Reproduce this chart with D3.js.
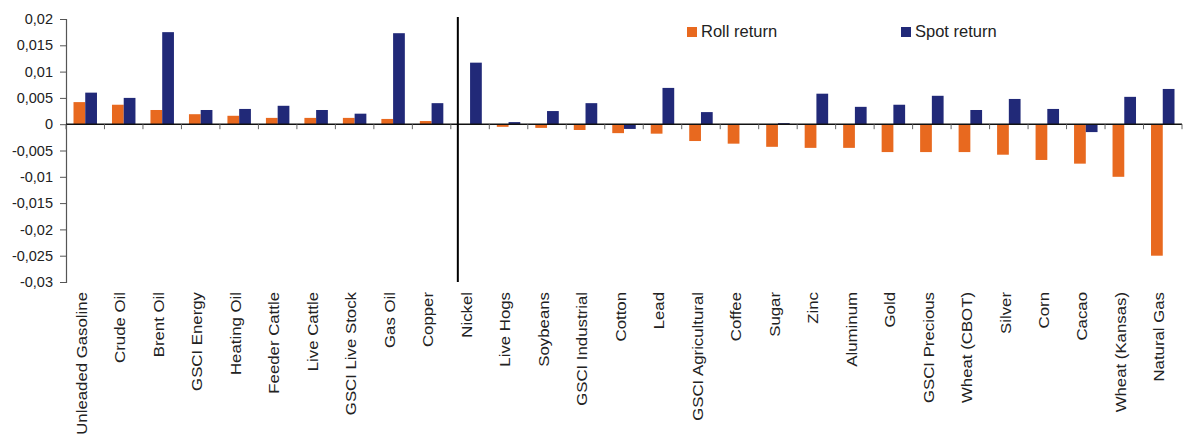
<!DOCTYPE html>
<html>
<head>
<meta charset="utf-8">
<script src="https://cdn.jsdelivr.net/npm/d3@7/dist/d3.min.js"></script>
<style>
  body { margin: 0; background: #fff; }
  svg { display: block; font-family: Arial, "Liberation Sans", sans-serif; }
</style>
</head>
<body>
<div id="chart"></div>
<script>
'use strict';

// data
var categories = ['Unleaded Gasoline', 'Crude Oil', 'Brent Oil', 'GSCI Energy', 'Heating Oil',
    'Feeder Cattle', 'Live Cattle', 'GSCI Live Stock', 'Gas Oil', 'Copper', 'Nickel', 'Live Hogs',
    'Soybeans', 'GSCI Industrial', 'Cotton', 'Lead', 'GSCI Agricultural', 'Coffee', 'Sugar', 'Zinc',
    'Aluminum', 'Gold', 'GSCI Precious', 'Wheat (CBOT)', 'Silver', 'Corn', 'Cacao', 'Wheat (Kansas)',
    'Natural Gas'];

var rollReturn = [0.0042, 0.0037, 0.0027, 0.0019, 0.0016, 0.0012, 0.0012, 0.0012, 0.0010, 0.0006,
    0, -0.0005, -0.0007, -0.0011, -0.0017, -0.0018, -0.0032, -0.0037, -0.0043, -0.0045,
    -0.0045, -0.0053, -0.0053, -0.0053, -0.0058, -0.0068, -0.0075, -0.0100, -0.0250];

var spotReturn = [0.0060, 0.0050, 0.0175, 0.0027, 0.0029, 0.0035, 0.0027, 0.0020, 0.0173, 0.0040,
    0.0117, 0.0004, 0.0025, 0.0040, -0.0009, 0.0069, 0.0023, 0, 0.0002, 0.0058,
    0.0033, 0.0037, 0.0054, 0.0027, 0.0048, 0.0029, -0.0015, 0.0052, 0.0067];

var seriesNames = ['Roll return', 'Spot return'];
var yTicks = [0.02, 0.015, 0.01, 0.005, 0, -0.005, -0.01, -0.015, -0.02, -0.025, -0.03];

var colors = { 'Roll return': '#e8691f', 'Spot return': '#212978' };

var W = 1189, H = 441;
var m = { left: 66, right: 7, top: 19, bottom: 159 };
var iw = W - m.left - m.right;
var ih = H - m.top - m.bottom;

var svg = d3.select('#chart').append('svg').attr('width', W).attr('height', H);
var g = svg.append('g').attr('transform', 'translate(' + m.left + ',' + m.top + ')');

var x0 = d3.scaleBand().domain(categories).range([0, iw]).paddingInner(0.39).paddingOuter(0.195);
var x1 = d3.scaleBand().domain(seriesNames).range([0, x0.bandwidth()]);
var y = d3.scaleLinear().domain([-0.03, 0.02]).range([ih, 0]);

var fmt = function(v) { return String(+v.toFixed(3)).replace('.', ','); };

// y axis
var yAxis = g.append('g')
    .call(d3.axisLeft(y).tickValues(yTicks).tickSize(6).tickPadding(7).tickFormat(fmt));
yAxis.select('.domain').attr('stroke', '#555').attr('stroke-width', 1.2);
yAxis.selectAll('.tick line').attr('stroke', '#555');
yAxis.selectAll('.tick text').attr('font-size', 14.5).attr('fill', '#222');

// bars
var rows = categories.map(function(c, i) {
    return { cat: c, vals: [
        { key: 'Roll return', v: rollReturn[i] },
        { key: 'Spot return', v: spotReturn[i] }
    ] };
});

var grp = g.selectAll('.grp').data(rows).enter().append('g')
    .attr('class', 'grp')
    .attr('transform', function(d) { return 'translate(' + x0(d.cat) + ',0)'; });

grp.selectAll('rect').data(function(d) { return d.vals; }).enter().append('rect')
    .attr('x', function(d) { return x1(d.key); })
    .attr('width', x1.bandwidth())
    .attr('y', function(d) { return y(Math.max(0, d.v)); })
    .attr('height', function(d) { return Math.abs(y(d.v) - y(0)); })
    .attr('fill', function(d) { return colors[d.key]; });

// category axis along zero
var step = x0.step();
var xAxis = g.append('g').attr('transform', 'translate(0,' + y(0) + ')');
xAxis.append('line').attr('x1', 0).attr('x2', iw).attr('stroke', '#111').attr('stroke-width', 1.5);
xAxis.selectAll('.ct').data(d3.range(categories.length + 1)).enter().append('line')
    .attr('x1', function(i) { return i * step; })
    .attr('x2', function(i) { return i * step; })
    .attr('y1', 0).attr('y2', 5)
    .attr('stroke', '#666');

// category labels
g.selectAll('.lab').data(categories).enter().append('text')
    .attr('transform', function(d) {
        return 'translate(' + (x0(d) + x0.bandwidth() / 2) + ',' + (ih + 10) + ') rotate(-90) scale(1.2,1)';
    })
    .attr('text-anchor', 'end')
    .attr('dy', '0.12em')
    .attr('font-size', 14)
    .attr('fill', '#222')
    .text(function(d) { return d; });

// divider before Nickel
var xd = x0('Nickel') - 0.5;
g.append('line')
    .attr('x1', xd).attr('x2', xd)
    .attr('y1', -2).attr('y2', ih)
    .attr('stroke', '#000').attr('stroke-width', 2);

// legend
var legX = { 'Roll return': 687, 'Spot return': 901 };
var leg = svg.selectAll('.leg').data(seriesNames).enter().append('g')
    .attr('transform', function(d) { return 'translate(' + legX[d] + ',27)'; });
leg.append('rect').attr('width', 10).attr('height', 10).attr('fill', function(d) { return colors[d]; });
leg.append('text').attr('x', 14).attr('y', 10).attr('font-size', 16.5).attr('fill', '#222')
    .text(function(d) { return d; });
</script>
</body>
</html>
